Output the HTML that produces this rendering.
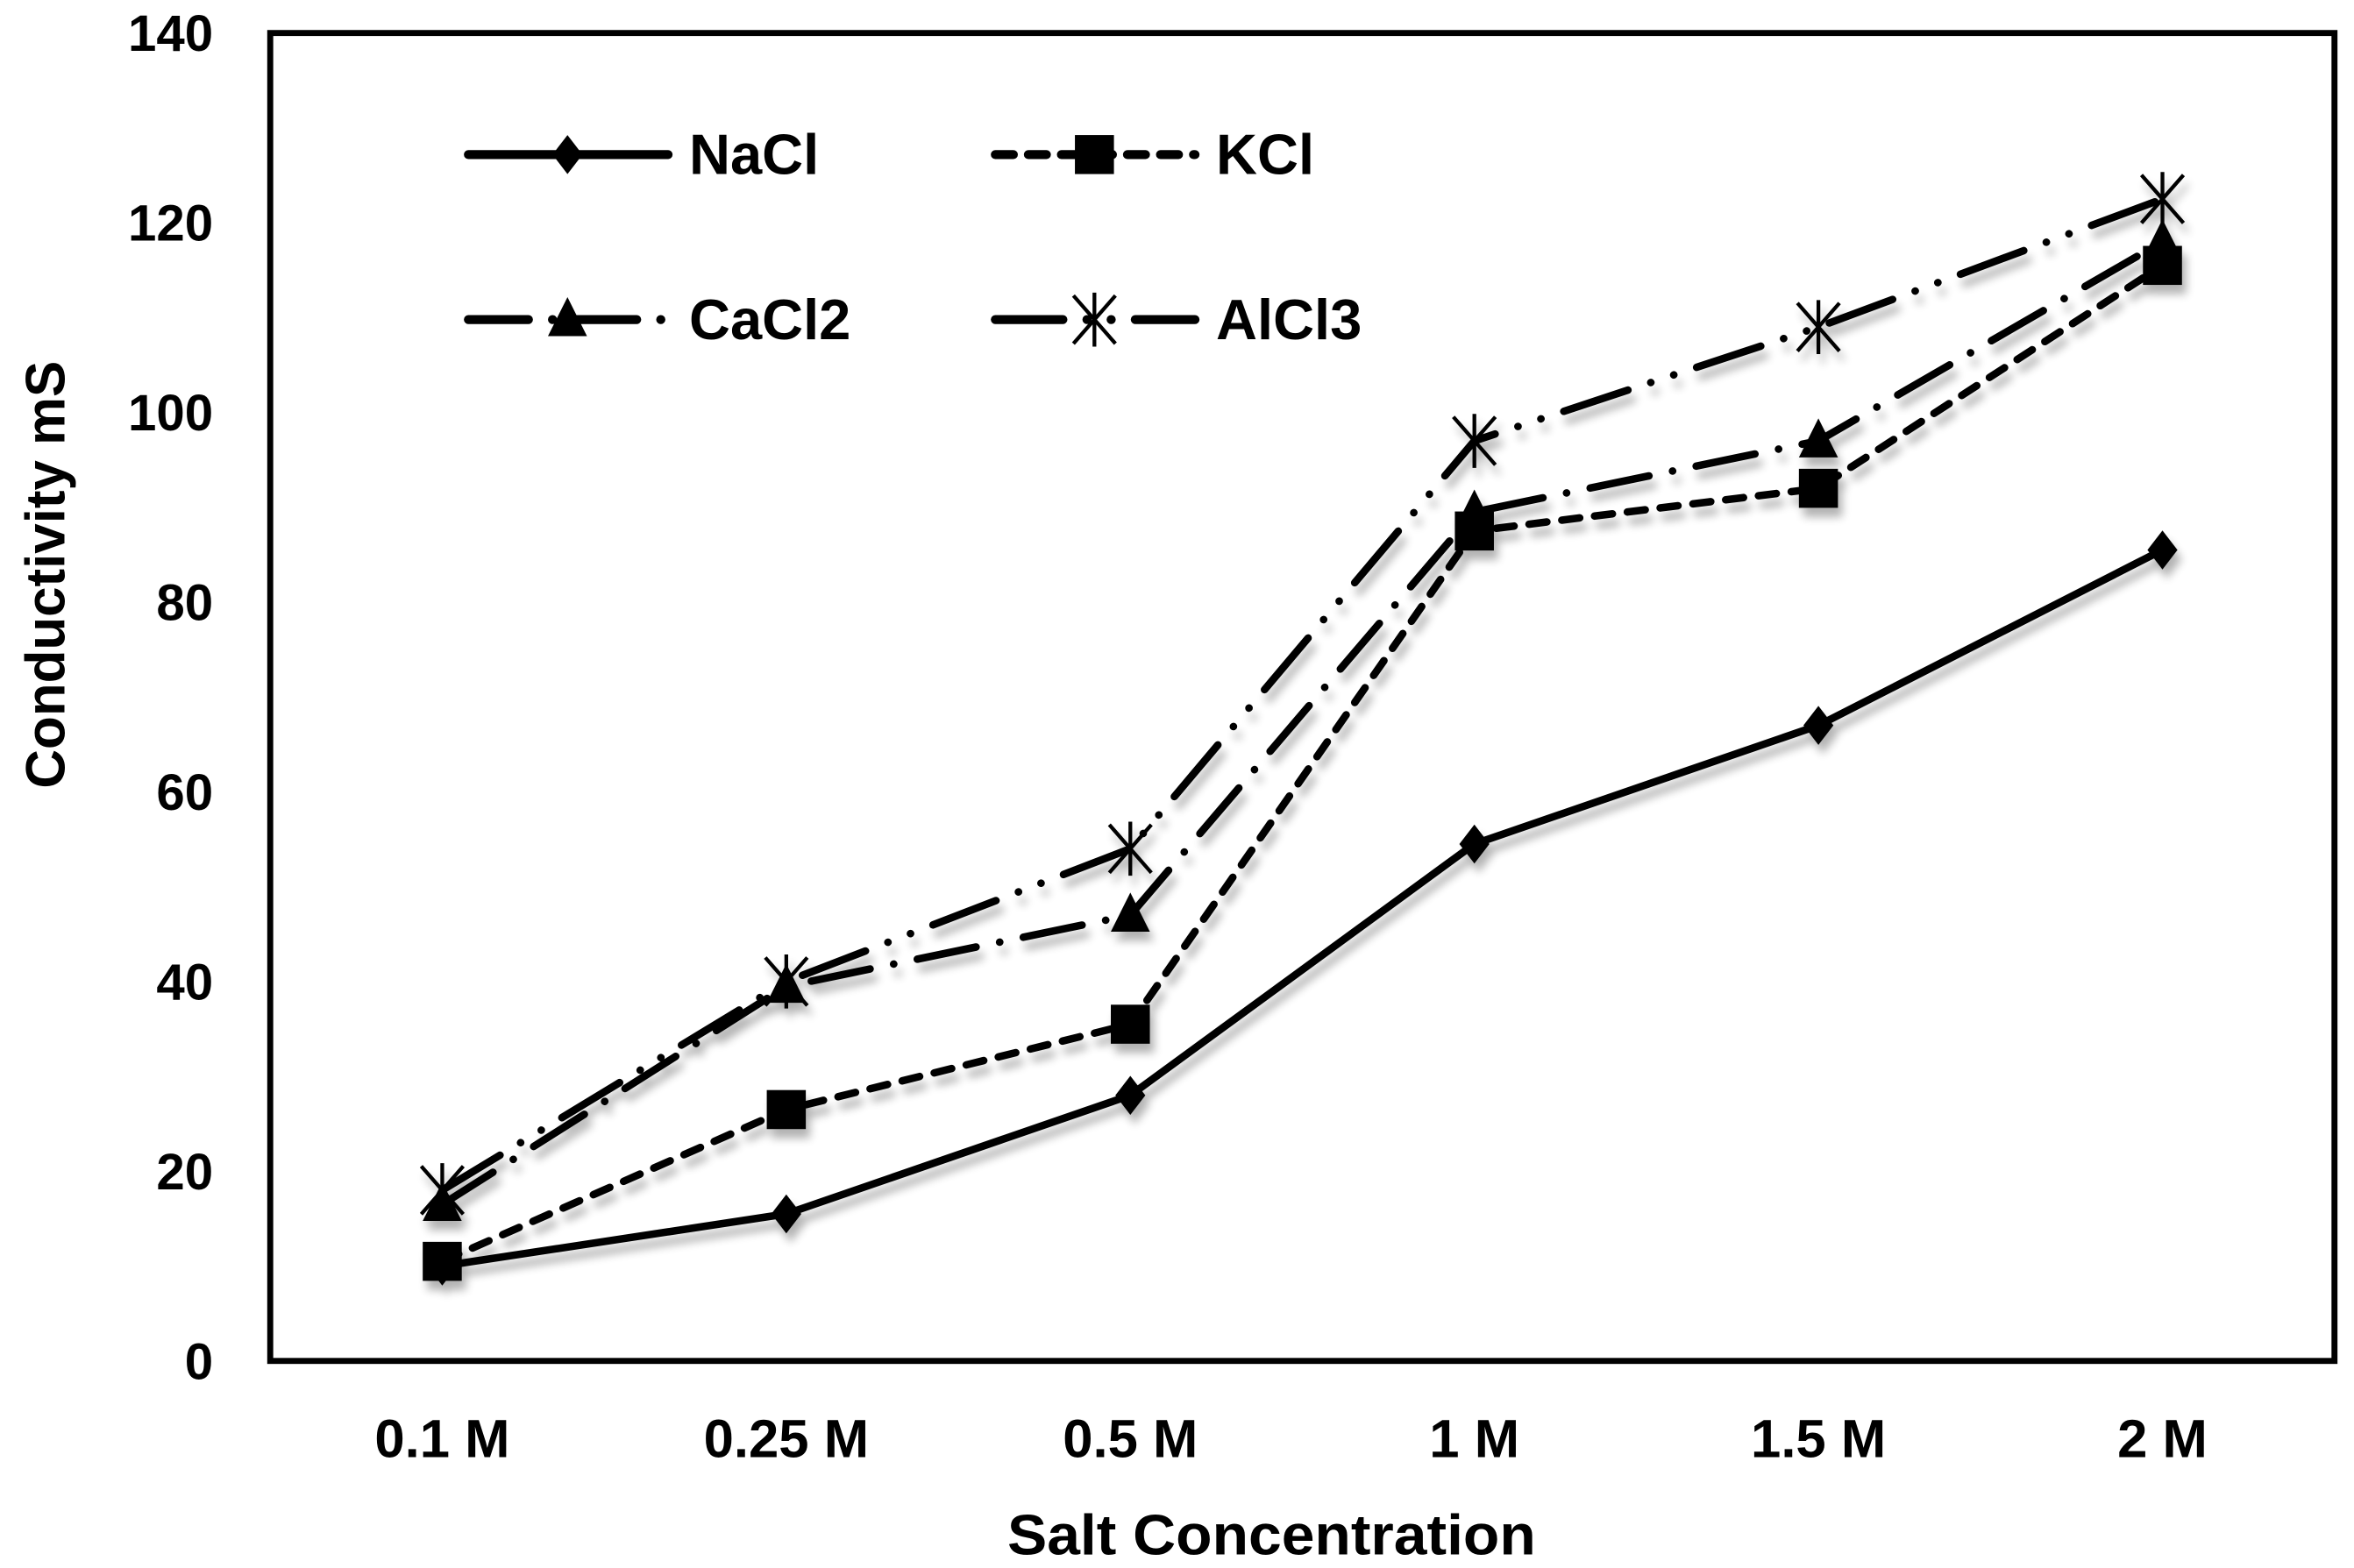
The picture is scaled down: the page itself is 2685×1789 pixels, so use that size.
<!DOCTYPE html>
<html><head><meta charset="utf-8"><style>
html,body{margin:0;padding:0;background:#fff}
svg{display:block}
text{font-family:"Liberation Sans",sans-serif;font-weight:bold;fill:#000}
</style></head><body>
<svg id="chart" width="2685" height="1789" viewBox="0 0 1568 1045" preserveAspectRatio="none" xmlns="http://www.w3.org/2000/svg">
<defs><filter id="sh" x="-20%" y="-20%" width="140%" height="140%"><feGaussianBlur in="SourceAlpha" stdDeviation="3"/><feOffset dx="3" dy="6"/><feComponentTransfer><feFuncA type="linear" slope="0.3"/></feComponentTransfer><feMerge><feMergeNode/><feMergeNode in="SourceGraphic"/></feMerge></filter></defs>
<rect x="180" y="22" width="1375" height="885" fill="none" stroke="#000" stroke-width="4"/>
<g id="yticks"></g><g id="xticks"></g><g id="series" filter="url(#sh)"></g>
<text x="847" y="1036" text-anchor="middle" font-size="38" textLength="352" lengthAdjust="spacingAndGlyphs">Salt Concentration</text>
<text transform="translate(43,383) rotate(-90)" text-anchor="middle" font-size="37" textLength="285" lengthAdjust="spacingAndGlyphs">Conductivity mS</text>
<g id="legend"></g>
</svg>
<script>
const categories=["0.1 M","0.25 M","0.5 M","1 M","1.5 M","2 M"];
const nacl=[10,15.5,28,54.5,67,85.5];
const kcl=[10.5,26.5,35.5,87.5,92,115.5];
const cacl2=[16.5,39.5,47,89.5,97,118];
const alcl3=[18,40,54,97,109,122.5];
const yTicks=[0,20,40,60,80,100,120,140];
const NS="http://www.w3.org/2000/svg";
const L=180,R=1555,T=22,B=907;
const xs=i=>L+(R-L)/categories.length*(i+0.5);
const ys=v=>B-(v/140)*(B-T);
function mk(tag,attrs,parent){const e=document.createElementNS(NS,tag);for(const k in attrs)e.setAttribute(k,attrs[k]);parent.appendChild(e);return e;}
const yg=document.getElementById('yticks');
yTicks.forEach(t=>{const e=mk('text',{x:142,y:ys(t)+12,'text-anchor':'end','font-size':34},yg);e.textContent=t;

});
const xg=document.getElementById('xticks');
categories.forEach((c,i)=>{const e=mk('text',{x:xs(i),y:971,'text-anchor':'middle','font-size':36},xg);e.textContent=c;

});
const sg=document.getElementById('series');
function marker(type,x,y,g){
 if(type==='diamond')return mk('polygon',{points:`${x},${y-13} ${x+10},${y} ${x},${y+13} ${x-10},${y}`,fill:'#000'},g);
 if(type==='square')return mk('rect',{x:x-13,y:y-13,width:26,height:26,fill:'#000'},g);
 if(type==='triangle')return mk('polygon',{points:`${x},${y-15} ${x+13},${y+11} ${x-13},${y+11}`,fill:'#000'},g);
 const s=mk('g',{stroke:'#000','stroke-width':2.5},g);
 mk('line',{x1:x,y1:y-18,x2:x,y2:y+18},s);mk('line',{x1:x-14,y1:y-16,x2:x+14,y2:y+16},s);mk('line',{x1:x-14,y1:y+16,x2:x+14,y2:y-16},s);return s;
}
const series=[
 {name:'NaCl',vals:nacl,dash:'',m:'diamond'},
 {name:'KCl',vals:kcl,dash:'12 10',m:'square'},
 {name:'CaCl2',vals:cacl2,dash:'40 16 0.1 16',m:'triangle'},
 {name:'AlCl3',vals:alcl3,dash:'45 16 0.1 16 0.1 16',m:'star'}];
series.forEach(s=>{
 const g=mk('g',{},sg);
 
 
 const p=mk('polyline',{points:s.vals.map((v,i)=>xs(i)+','+ys(v)).join(' '),fill:'none',stroke:'#000','stroke-width':5,'stroke-linecap':'round','stroke-linejoin':'round','stroke-dasharray':s.dash},g);
 
 
 s.vals.forEach((v,i)=>{const m=marker(s.m,xs(i),ys(v),g);
 
 });
});
const lg=document.getElementById('legend');
const lpos=[[312,103],[663,103],[312,213],[663,213]];
series.forEach((s,i)=>{
 const [x,y]=lpos[i];
 const g=mk('g',{},lg);
 
 
 mk('line',{x1:x,y1:y,x2:x+133,y2:y,stroke:'#000','stroke-width':6,'stroke-linecap':'round','stroke-dasharray':s.dash},g);
 marker(s.m,x+66,y,g);
 const t=mk('text',{x:x+147,y:y+13,'font-size':38},g);t.textContent=s.name;
});
</script>
</body></html>
